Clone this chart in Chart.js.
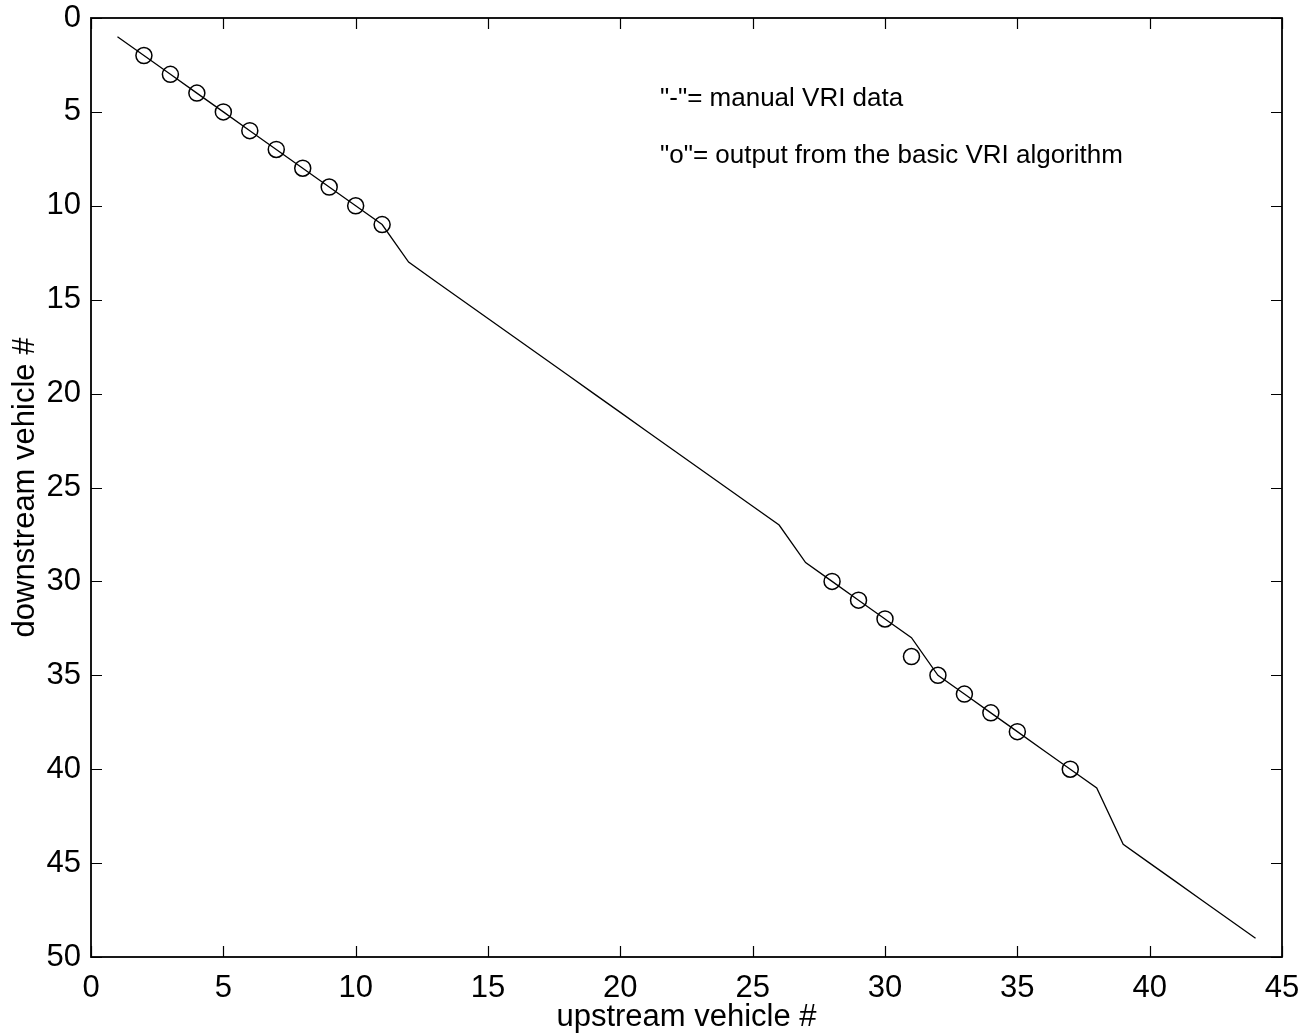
<!DOCTYPE html>
<html lang="en">
<head>
    <meta charset="UTF-8">
    <title>Upstream vs downstream vehicle matching</title>
    <script src="https://cdn.jsdelivr.net/npm/chart.js"></script>
    <style>
        html, body { margin: 0; padding: 0; background: #fff; }
        #wrap { width: 1310px; height: 1036px; }
    </style>
</head>
<body>
    <div id="wrap">
        <canvas id="vri-chart" width="1310" height="1036"></canvas>
    </div>

    <script>
        // manual VRI matching (solid line)
        const manualUpstream = [1, 2, 3, 4, 5, 6, 7, 8, 9, 10, 11, 12, 13, 14, 15, 16, 17, 18, 19, 20, 21, 22,
                                23, 24, 25, 26, 27, 28, 29, 30, 31, 32, 33, 34, 35, 36, 37, 38, 39, 40, 41, 42, 43, 44];
        const manualDownstream = [1, 2, 3, 4, 5, 6, 7, 8, 9, 10, 11, 13, 14, 15, 16, 17, 18, 19, 20, 21, 22, 23,
                                  24, 25, 26, 27, 29, 30, 31, 32, 33, 35, 36, 37, 38, 39, 40, 41, 44, 45, 46, 47, 48, 49];

        // basic VRI algorithm output (circles)
        const algoUpstream = [2, 3, 4, 5, 6, 7, 8, 9, 10, 11, 28, 29, 30, 31, 32, 33, 34, 35, 37];
        const algoDownstream = [2, 3, 4, 5, 6, 7, 8, 9, 10, 11, 30, 31, 32, 34, 35, 36, 37, 38, 40];

        const xTicks = [0, 5, 10, 15, 20, 25, 30, 35, 40, 45];
        const yTicks = [0, 5, 10, 15, 20, 25, 30, 35, 40, 45, 50];

        const notes = ['"-"= manual VRI data', '"o"= output from the basic VRI algorithm'];

        const FONT = "'Liberation Sans', Arial, Helvetica, sans-serif";

        function toPoints(xs, ys) {
            return xs.map((x, i) => ({ x: x, y: ys[i] }));
        }

        // box around the plot area with inward tick marks on all sides, plus the text notes
        const frame = {
            id: 'frame',
            afterDraw(chart) {
                const { ctx, chartArea: a, scales } = chart;
                const len = 11;
                ctx.save();
                ctx.strokeStyle = '#000';
                ctx.lineWidth = 1.2;
                ctx.beginPath();
                xTicks.forEach(v => {
                    const px = Math.round(scales.x.getPixelForValue(v)) + 0.5;
                    ctx.moveTo(px, a.bottom); ctx.lineTo(px, a.bottom - len);
                    ctx.moveTo(px, a.top); ctx.lineTo(px, a.top + len);
                });
                yTicks.forEach(v => {
                    const py = Math.round(scales.y.getPixelForValue(v)) + 0.5;
                    ctx.moveTo(a.left, py); ctx.lineTo(a.left + len, py);
                    ctx.moveTo(a.right, py); ctx.lineTo(a.right - len, py);
                });
                ctx.stroke();
                ctx.lineWidth = 1.8;
                ctx.strokeRect(a.left, a.top, a.right - a.left, a.bottom - a.top);

                ctx.fillStyle = '#000';
                ctx.font = '26px ' + FONT;
                ctx.textAlign = 'left';
                ctx.textBaseline = 'alphabetic';
                const tx = scales.x.getPixelForValue(21.5);
                ctx.fillText(notes[0], tx, scales.y.getPixelForValue(4.7));
                ctx.fillText(notes[1], tx, scales.y.getPixelForValue(7.72));
                ctx.restore();
            }
        };

        const ctx = document.getElementById('vri-chart').getContext('2d');
        const chart = new Chart(ctx, {
            type: 'scatter',
            data: {
                datasets: [{
                    label: 'manual VRI data',
                    data: toPoints(manualUpstream, manualDownstream),
                    showLine: true,
                    borderColor: '#000',
                    borderWidth: 1.3,
                    pointRadius: 0,
                    pointHoverRadius: 0,
                    tension: 0
                }, {
                    label: 'basic VRI algorithm',
                    data: toPoints(algoUpstream, algoDownstream),
                    showLine: false,
                    pointStyle: 'circle',
                    pointRadius: 8,
                    pointBorderWidth: 1.5,
                    pointBorderColor: '#000',
                    pointBackgroundColor: 'rgba(0,0,0,0)',
                    borderColor: '#000',
                    backgroundColor: 'rgba(0,0,0,0)'
                }]
            },
            options: {
                responsive: false,
                animation: false,
                devicePixelRatio: 1,
                layout: { padding: { top: 18, right: 28, left: 0, bottom: 0 } },
                plugins: {
                    legend: { display: false },
                    tooltip: { enabled: false }
                },
                scales: {
                    x: {
                        type: 'linear',
                        min: 0,
                        max: 45,
                        afterBuildTicks: s => { s.ticks = xTicks.map(v => ({ value: v })); },
                        afterFit: s => {
                            s.height = 79;
                            s.paddingLeft = 0;
                            s.paddingRight = 0;
                        },
                        grid: { display: false, drawTicks: false },
                        border: { display: false },
                        ticks: {
                            color: '#000',
                            padding: 13,
                            maxRotation: 0,
                            font: { family: FONT, size: 31 }
                        },
                        title: {
                            display: true,
                            text: 'upstream vehicle #',
                            color: '#000',
                            padding: { top: 0, bottom: 0 },
                            font: { family: FONT, size: 31 }
                        }
                    },
                    y: {
                        type: 'linear',
                        reverse: true,
                        min: 0,
                        max: 50,
                        afterBuildTicks: s => { s.ticks = yTicks.map(v => ({ value: v })); },
                        afterFit: s => {
                            s.width = 91;
                            s.paddingTop = 0;
                            s.paddingBottom = 0;
                        },
                        grid: { display: false, drawTicks: false },
                        border: { display: false },
                        ticks: {
                            color: '#000',
                            padding: 10,
                            font: { family: FONT, size: 31 }
                        },
                        title: {
                            display: true,
                            text: 'downstream vehicle #',
                            color: '#000',
                            padding: { top: 7, bottom: 0 },
                            font: { family: FONT, size: 31 }
                        }
                    }
                }
            },
            plugins: [frame]
        });
    </script>
</body>
</html>
